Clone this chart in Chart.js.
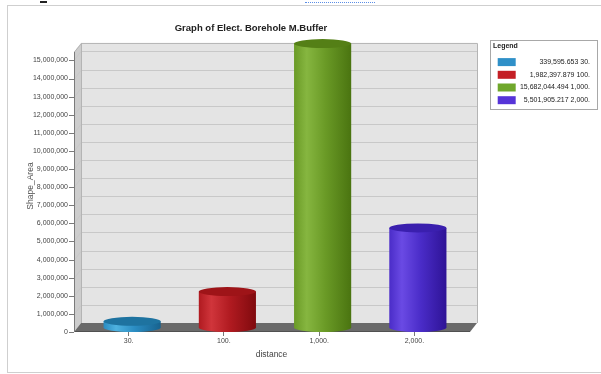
<!DOCTYPE html>
<html>
<head>
<meta charset="utf-8">
<title>Graph of Elect. Borehole M.Buffer</title>
<script src="https://cdn.jsdelivr.net/npm/chart.js@4.4.1/dist/chart.umd.min.js"></script>
<style>
  html, body { margin: 0; padding: 0; background: #fff; }
  #wrap { position: relative; width: 601px; height: 374px; overflow: hidden; }
  #frame { position: absolute; left: 7px; top: 5px; width: 600px; height: 366px; border: 1px solid #cfcfcf; border-right: none; }
  #dash { position: absolute; left: 40px; top: 1px; width: 7px; height: 2px; background: #222; }
  #dots { position: absolute; left: 305px; top: 2px; width: 70px; border-top: 1px dotted #5b8ee6; }
  canvas { position: absolute; left: 0; top: 0; }
</style>
</head>
<body>
<div id="wrap">
  <div id="frame"></div>
  <div id="dash"></div>
  <div id="dots"></div>
  <canvas id="chart" width="601" height="374"></canvas>
</div>
<script>
// Buffer distances (x categories) and buffered polygon area per distance
const distances = ['30.', '100.', '1,000.', '2,000.'];
const shapeAreas = [339595.653, 1982397.879, 15682044.494, 5501905.217];
const yTicks = [0, 1000000, 2000000, 3000000, 4000000, 5000000, 6000000, 7000000,
  8000000, 9000000, 10000000, 11000000, 12000000, 13000000, 14000000, 15000000];

// flat legend swatches and cylinder shading [light, mid, dark, cap]
const legendColors = ['#2f90c8', '#c41f25', '#6fa72b', '#5634d8'];
const barShades = [
  ['#4eb2e0', '#2a8cc2', '#17628e', '#1e73a0'],
  ['#d0353b', '#b01a20', '#800a0e', '#9e1418'],
  ['#86b640', '#6a9a26', '#4a7410', '#547f16'],
  ['#6a4ae4', '#4a2cc8', '#2e1396', '#3a1fae']
];

const FONT = '"Liberation Sans Narrow", "Arial Narrow", "Liberation Sans", Arial, sans-serif';
const DEPTH_X = 7, DEPTH_Y = 9;
const WALL_TOP = 15470000;

Chart.defaults.font.family = FONT;

// back wall, side wall, floor and the front y axis line
const box3d = {
  id: 'box3d',
  beforeDatasetsDraw(chart) {
    const { ctx, chartArea: a, scales: { y } } = chart;
    const fl = a.left - DEPTH_X, fr = a.right + 8;
    const fb = y.getPixelForValue(0), ft = y.getPixelForValue(WALL_TOP);
    const bl = fl + DEPTH_X, br = fr + DEPTH_X, bb = fb - DEPTH_Y, bt = ft - DEPTH_Y;
    ctx.save();

    ctx.fillStyle = '#cdcdcd';
    ctx.beginPath();
    ctx.moveTo(fl, fb); ctx.lineTo(fl, ft); ctx.lineTo(bl, bt); ctx.lineTo(bl, bb);
    ctx.closePath(); ctx.fill();

    ctx.fillStyle = '#e4e4e4';
    ctx.fillRect(bl, bt, br - bl, bb - bt);

    ctx.strokeStyle = '#c8c8c8';
    ctx.lineWidth = 1;
    y.ticks.forEach(t => {
      const py = Math.round(y.getPixelForValue(t.value)) + 0.5;
      if (t.value === 0) return;
      ctx.beginPath();
      ctx.moveTo(fl, py); ctx.lineTo(bl, py - DEPTH_Y); ctx.lineTo(br, py - DEPTH_Y);
      ctx.stroke();
    });

    ctx.strokeStyle = '#b4b4b4';
    ctx.beginPath();
    ctx.moveTo(fl + 0.5, ft); ctx.lineTo(bl + 0.5, bt + 0.5); ctx.lineTo(br + 0.5, bt + 0.5); ctx.lineTo(br + 0.5, bb);
    ctx.stroke();
    ctx.beginPath();
    ctx.moveTo(bl + 0.5, bt); ctx.lineTo(bl + 0.5, bb);
    ctx.stroke();

    // floor slab
    ctx.fillStyle = '#6a6a6a';
    ctx.beginPath();
    ctx.moveTo(fl, fb); ctx.lineTo(fr, fb); ctx.lineTo(br, bb); ctx.lineTo(bl, bb);
    ctx.closePath(); ctx.fill();
    ctx.fillStyle = '#505050';
    ctx.fillRect(fl, fb - 1, fr - fl, 1);

    // y axis line with tick marks
    ctx.strokeStyle = '#7a7a7a';
    ctx.beginPath();
    ctx.moveTo(fl + 0.5, fb); ctx.lineTo(fl + 0.5, ft);
    y.ticks.forEach(t => {
      const py = Math.round(y.getPixelForValue(t.value)) + 0.5;
      ctx.moveTo(fl - 5, py); ctx.lineTo(fl, py);
    });
    ctx.stroke();
    ctx.restore();
  }
};

// each bar redrawn as a shaded cylinder standing mid-depth on the floor
const cylinders = {
  id: 'cylinders',
  afterDatasetsDraw(chart) {
    const { ctx } = chart;
    const meta = chart.getDatasetMeta(0);
    ctx.save();
    meta.data.forEach((bar, i) => {
      const { x, y, base, width } = bar.getProps(['x', 'y', 'base', 'width'], true);
      const cx = x + DEPTH_X / 2, rx = width / 2, ry = 4.5;
      const top = y - DEPTH_Y / 2, bot = base - DEPTH_Y / 2;
      const [light, mid, dark, cap] = barShades[i];
      const g = ctx.createLinearGradient(cx - rx, 0, cx + rx, 0);
      g.addColorStop(0, mid);
      g.addColorStop(0.22, light);
      g.addColorStop(0.55, mid);
      g.addColorStop(1, dark);
      ctx.beginPath();
      ctx.moveTo(cx - rx, top);
      ctx.lineTo(cx - rx, bot);
      ctx.ellipse(cx, bot, rx, ry, 0, Math.PI, 0, true);
      ctx.lineTo(cx + rx, top);
      ctx.closePath();
      ctx.fillStyle = g;
      ctx.fill();
      ctx.beginPath();
      ctx.ellipse(cx, top, rx, ry, 0, 0, Math.PI * 2);
      ctx.fillStyle = cap;
      ctx.fill();
    });
    ctx.restore();
  }
};

// chart title and legend border
const decorations = {
  id: 'decorations',
  afterDraw(chart) {
    const { ctx } = chart;
    ctx.save();
    ctx.font = 'bold 9.5px ' + FONT;
    ctx.fillStyle = '#222';
    ctx.textAlign = 'center';
    ctx.textBaseline = 'middle';
    ctx.fillText('Graph of Elect. Borehole M.Buffer', 251, 28);

    const lg = chart.legend;
    const boxes = lg.legendHitBoxes;
    const last = boxes[boxes.length - 1];
    const left = Math.round(lg.left) - 3;
    ctx.strokeStyle = '#a8a8a8';
    ctx.lineWidth = 1;
    ctx.strokeRect(left + 0.5, Math.round(lg.top) + 0.5,
      Math.round(lg.right + 7 - left), Math.round(last.top + last.height + 5 - lg.top));
    ctx.restore();
  }
};

new Chart(document.getElementById('chart'), {
  type: 'bar',
  data: {
    labels: distances,
    datasets: [{
      label: 'Shape_Area',
      data: shapeAreas,
      backgroundColor: 'transparent',
      borderWidth: 0,
      barPercentage: 0.6,
      categoryPercentage: 1
    }]
  },
  options: {
    responsive: false,
    animation: false,
    layout: { padding: { top: 40, left: 26, right: 11, bottom: 0 } },
    plugins: {
      tooltip: { enabled: false },
      title: { display: false },
      legend: {
        position: 'right',
        align: 'start',
        maxWidth: 97,
        title: {
          display: true,
          text: 'Legend',
          position: 'start',
          color: '#222',
          font: { size: 7, weight: 'bold' },
          padding: { top: 3, bottom: 2 }
        },
        labels: {
          boxWidth: 18,
          boxHeight: 8,
          padding: 4.7,
          textAlign: 'right',
          color: '#333',
          font: { size: 7 },
          generateLabels: () => shapeAreas.map((v, i) => ({
            text: v.toLocaleString('en-US', { minimumFractionDigits: 3, maximumFractionDigits: 3 }) + ' ' + distances[i],
            fillStyle: legendColors[i],
            strokeStyle: legendColors[i],
            lineWidth: 0,
            hidden: false,
            index: i,
            datasetIndex: 0
          }))
        }
      }
    },
    scales: {
      x: {
        afterFit: s => { s.height = 42; },
        grid: { display: true, drawOnChartArea: false, drawTicks: true, tickLength: 4, offset: false, color: '#777' },
        border: { display: false },
        ticks: { padding: 1, color: '#444', font: { size: 7 } },
        title: { display: true, text: 'distance', color: '#444', font: { size: 8.5 }, padding: { top: 0, bottom: 14 } }
      },
      y: {
        min: 0,
        max: 16130000,
        afterFit: s => { s.width = 55; },
        afterBuildTicks: s => { s.ticks = yTicks.map(value => ({ value })); },
        grid: { display: false, drawTicks: false },
        border: { display: false },
        ticks: {
          padding: 13,
          color: '#444',
          font: { size: 7 },
          callback: v => v.toLocaleString('en-US')
        },
        title: { display: true, text: 'Shape_Area', color: '#555', font: { size: 8.5 }, padding: { top: 0, bottom: 0 } }
      },
      gap: {
        type: 'linear',
        position: 'right',
        display: true,
        grid: { display: false },
        border: { display: false },
        ticks: { display: false },
        afterFit: s => { s.width = 31; }
      }
    }
  },
  plugins: [box3d, cylinders, decorations]
});
</script>
</body>
</html>
